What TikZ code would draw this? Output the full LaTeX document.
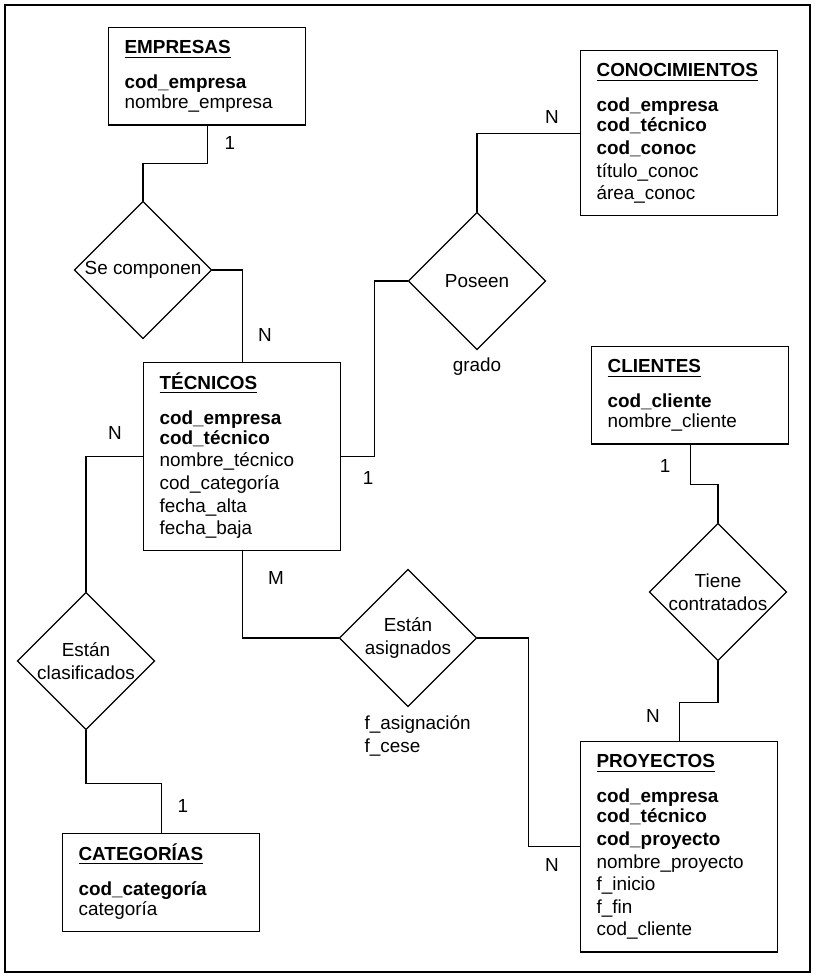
\documentclass[tikz,border=0pt]{standalone}
\usepackage{fontspec}
\setmainfont{Liberation Sans}
\usetikzlibrary{shapes.geometric}

\newcommand{\enttitle}[1]{\underline{\textbf{#1}}\vphantom{ÉÍ}}

\begin{document}
\begin{tikzpicture}[x=0.5pt, y=-0.5pt, line width=0.6pt,
    font=\fontsize{9.45}{10}\selectfont]
  \tikzset{entity/.style={draw, rectangle, anchor=north west, align=left,
      text width=82.5pt, inner xsep=8pt, inner ysep=5pt,
      execute at end node=\strut},
    relation/.style={draw, diamond, minimum width=68.75pt, minimum height=68.75pt,
      inner sep=0pt, align=center, font=\fontsize{9.45}{11.5}\selectfont},
    card/.style={inner sep=0pt, align=left, font=\fontsize{9.45}{11.5}\selectfont}}
  \useasboundingbox (0,0) rectangle (817,978);
  \draw (5,5) rectangle (810,972);

  \node[entity] (empresas) at (108,27) {\enttitle{EMPRESAS}\\[7.5pt]
    \textbf{cod\_empresa}\\
    nombre\_empresa};
  \node[entity] (conocimientos) at (580,50) {\enttitle{CONOCIMIENTOS}\\[7.5pt]
    \textbf{cod\_empresa}\\
    \textbf{cod\_técnico}\\[1.3pt]
    \textbf{cod\_conoc}\\[1.3pt]
    título\_conoc\\[1.3pt]
    área\_conoc};
  \node[entity] (tecnicos) at (143,362) {\enttitle{TÉCNICOS}\\[7.5pt]
    \textbf{cod\_empresa}\\
    \textbf{cod\_técnico}\\[1.3pt]
    nombre\_técnico\\[1.3pt]
    cod\_categoría\\[1.3pt]
    fecha\_alta\\[1.3pt]
    fecha\_baja};
  \node[entity] (clientes) at (591,346) {\enttitle{CLIENTES}\\[7.5pt]
    \textbf{cod\_cliente}\\
    nombre\_cliente};
  \node[entity] (categorias) at (62,833) {\enttitle{CATEGORÍAS}\\[7.5pt]
    \textbf{cod\_categoría}\\
    categoría};
  \node[entity] (proyectos) at (580,741) {\enttitle{PROYECTOS}\\[7.5pt]
    \textbf{cod\_empresa}\\
    \textbf{cod\_técnico}\\[1.3pt]
    \textbf{cod\_proyecto}\\[1.3pt]
    nombre\_proyecto\\[1.3pt]
    f\_inicio\\[1.3pt]
    f\_fin\\[1.3pt]
    cod\_cliente};

  \node[relation] (secomponen)   at (143,270) {Se componen};
  \node[relation] (poseen)       at (477,281) {Poseen};
  \node[relation] (clasificados) at (86,661)  {Están\\clasificados};
  \node[relation] (asignados)    at (408,638) {Están\\asignados};
  \node[relation] (contratados)  at (718,592) {Tiene\\contratados};

  \node[card] (grado)     at (477,367) {grado};
  \node[card, anchor=west] (asigattr) at (364,736) {f\_asignación\\f\_cese};

  \node[card] (card-emp)   at (230,143) {1};
  \node[card] (card-tec-a) at (265,335) {N};
  \node[card] (card-con)   at (552,117) {N};
  \node[card] (card-tec-b) at (368,478) {1};
  \node[card] (card-tec-c) at (115,433) {N};
  \node[card] (card-tec-d) at (276,578) {M};
  \node[card] (card-cat)   at (183,806) {1};
  \node[card] (card-cli)   at (665,466) {1};
  \node[card] (card-pro-a) at (653,716) {N};
  \node[card] (card-pro-b) at (552,865) {N};

  \draw (empresas.south) -- ++(0,38) -| (secomponen.north);
  \draw (secomponen.east) -| (tecnicos.north);
  \draw (tecnicos.west) -| (clasificados.north);
  \draw (clasificados.south) -- ++(0,53) -| (categorias.north);
  \draw (tecnicos.east) -- ++(33,0) |- (poseen.west);
  \draw (poseen.north) |- (conocimientos.west);
  \draw (clientes.south) -- ++(0,40) -| (contratados.north);
  \draw (contratados.south) -- ++(0,41) -| (proyectos.north);
  \draw (tecnicos.south) |- (asignados.west);
  \draw (asignados.east) -- ++(51,0) |- (proyectos.west);
\end{tikzpicture}
\end{document}
